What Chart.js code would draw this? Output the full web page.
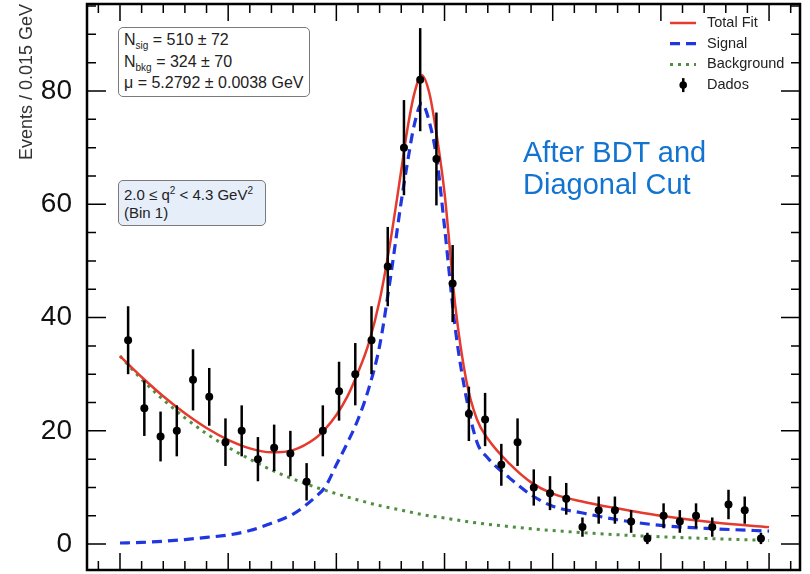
<!DOCTYPE html>
<html>
<head>
<meta charset="utf-8">
<script src="https://cdn.jsdelivr.net/npm/chart.js@4.4.1/dist/chart.umd.min.js"></script>
<style>
    body { margin: 0; background: #fff; }
    #wrap { position: relative; width: 810px; height: 574px; font-family: "Liberation Sans", Arial, sans-serif; }
    #chart { position: absolute; left: 0; top: 0; }
    .box { position: absolute; border: 1.5px solid #7a7a7a; border-radius: 5px; box-sizing: border-box; color: #222; white-space: nowrap; }
    .box sub, .box sup { font-size: 10px; line-height: 0; }
    #fitBox { left: 118px; top: 27px; width: 192px; height: 70px; background: #fff; font-size: 16px; line-height: 21.5px; padding: 1px 0 0 5px; }
    #binBox { left: 118px; top: 180px; width: 148px; height: 46px; background: #e6eefa; font-size: 15px; line-height: 18px; padding: 5px 0 0 5px; }
    #cutText { position: absolute; left: 523px; top: 136px; color: #1274d0; font-size: 29px; line-height: 32px; }
</style>
</head>
<body>
<div id="wrap">
    <canvas id="chart" width="810" height="574"></canvas>
    <div class="box" id="fitBox">
        N<sub>sig</sub> = 510 ± 72<br>
        N<sub>bkg</sub> = 324 ± 70<br>
        μ = 5.2792 ± 0.0038 GeV
    </div>
    <div class="box" id="binBox">
        2.0 ≤ q<sup>2</sup> &lt; 4.3 GeV<sup>2</sup><br>
        (Bin 1)
    </div>
    <div id="cutText">After BDT and<br>Diagonal Cut</div>
</div>
<script>
// Data (bin centres in GeV, 0.015 GeV bins)
const binX = [5.0075, 5.0225, 5.0375, 5.0525, 5.0675, 5.0825, 5.0975, 5.1125, 5.1275, 5.1425,
    5.1575, 5.1725, 5.1875, 5.2025, 5.2175, 5.2325, 5.2475, 5.2625, 5.2775, 5.2925,
    5.3075, 5.3225, 5.3375, 5.3525, 5.3675, 5.3825, 5.3975, 5.4125, 5.4275, 5.4425,
    5.4575, 5.4725, 5.4875, 5.5025, 5.5175, 5.5325, 5.5475, 5.5625, 5.5775, 5.5925];
const counts = [36, 24, 19, 20, 29, 26, 18, 20, 15, 17,
    16, 11, 20, 27, 30, 36, 49, 70, 82, 68,
    46, 23, 22, 14, 18, 10, 9, 8, 3, 6,
    6, 4, 1, 5, 4, 5, 3, 7, 6, 1];
const countErr = [6.0, 4.9, 4.4, 4.5, 5.4, 5.1, 4.2, 4.5, 3.9, 4.1,
    4.0, 3.3, 4.5, 5.2, 5.5, 6.0, 7.0, 8.4, 9.1, 8.2,
    6.8, 4.8, 4.7, 3.7, 4.2, 3.2, 3.0, 2.8, 1.7, 2.4,
    2.4, 2.0, 1.0, 2.2, 2.0, 2.2, 1.7, 2.6, 2.4, 1.0];

// Fit curves
const curveX = [5.00, 5.02, 5.04, 5.06, 5.08, 5.10, 5.12, 5.14, 5.16, 5.18, 5.19, 5.20,
    5.21, 5.22, 5.23, 5.24, 5.25, 5.26, 5.265, 5.272, 5.279, 5.286, 5.293, 5.30,
    5.31, 5.32, 5.33, 5.34, 5.36, 5.38, 5.40, 5.43, 5.46, 5.50, 5.55, 5.60];
const totalFit = [33.2, 29.5, 26.1, 23.1, 20.5, 18.4, 16.9, 16.2, 16.6, 18.6, 20.4, 22.8,
    26.0, 30.3, 35.5, 43.0, 53.5, 66.0, 72.5, 79.5, 82.8, 79.6, 71.9, 62.0,
    42.0, 29.0, 22.0, 18.6, 14.2, 10.9, 8.9, 7.4, 6.3, 5.0, 3.8, 3.0];
const signal = [0.2, 0.3, 0.5, 0.8, 1.2, 1.6, 2.4, 3.7, 5.3, 8.2, 10.2, 14.0,
    17.8, 22.0, 27.5, 35.0, 47.0, 60.5, 66.5, 74.0, 77.8, 74.5, 67.8, 56.0,
    38.0, 26.0, 18.0, 15.2, 11.7, 8.7, 6.7, 5.4, 4.3, 3.3, 2.7, 2.3];
const bkgX = [5.00, 5.02, 5.04, 5.06, 5.08, 5.10, 5.12, 5.14, 5.16, 5.18, 5.20, 5.22, 5.24,
    5.26, 5.28, 5.30, 5.32, 5.34, 5.36, 5.38, 5.40, 5.43, 5.46, 5.50, 5.55, 5.60];
const background = [33.2, 29.1, 25.5, 22.3, 19.5, 17.1, 15.0, 13.1, 11.5, 10.1, 8.9, 7.8, 6.8,
    6.0, 5.2, 4.6, 4.0, 3.5, 3.1, 2.7, 2.4, 2.0, 1.65, 1.3, 0.95, 0.65];

const yTickLabels = [0, 20, 40, 60, 80];
const legendLabels = ["Total Fit", "Signal", "Background", "Dados"];

const pts = (xs, ys) => xs.map((v, i) => ({ x: v, y: ys[i] }));

// error bars for the data points
const errorBars = {
    id: "errorBars",
    afterDatasetsDraw(chart) {
        const { ctx, scales: { x, y } } = chart;
        ctx.save();
        ctx.strokeStyle = "#000";
        ctx.lineWidth = 2.5;
        binX.forEach((bx, i) => {
            const px = x.getPixelForValue(bx);
            ctx.beginPath();
            ctx.moveTo(px, y.getPixelForValue(counts[i] + countErr[i]));
            ctx.lineTo(px, y.getPixelForValue(Math.max(counts[i] - countErr[i], 0)));
            ctx.stroke();
        });
        ctx.restore();
    },
};

// frame with inward ticks on all four sides
const frame = {
    id: "frame",
    afterDraw(chart) {
        const { ctx, chartArea: a, scales: { x, y } } = chart;
        ctx.save();
        ctx.strokeStyle = "#000";
        ctx.lineWidth = 1.5;
        ctx.beginPath();
        for (let k = 249; k <= 281; k++) {
            const px = x.getPixelForValue(k * 0.02);
            const len = k % 5 === 0 ? 17 : 9;
            ctx.moveTo(px, a.bottom);
            ctx.lineTo(px, a.bottom - len);
            ctx.moveTo(px, a.top);
            ctx.lineTo(px, a.top + len);
        }
        for (let k = 0; k <= 19; k++) {
            const py = y.getPixelForValue(k * 5);
            const len = k % 4 === 0 ? 19 : 9;
            ctx.moveTo(a.left, py);
            ctx.lineTo(a.left + len, py);
            ctx.moveTo(a.right, py);
            ctx.lineTo(a.right - len, py);
        }
        ctx.stroke();
        ctx.lineWidth = 2.5;
        ctx.strokeRect(a.left, a.top, a.right - a.left, a.bottom - a.top);
        ctx.restore();
    },
};

// legend in the top right corner of the plot
const legendBox = {
    id: "legendBox",
    afterDraw(chart) {
        const { ctx } = chart;
        const ds = chart.data.datasets;
        const order = [1, 2, 3, 0];
        ctx.save();
        ctx.font = "14.5px 'Liberation Sans', Arial, sans-serif";
        ctx.textBaseline = "middle";
        order.forEach((di, row) => {
            const cy = 23 + row * 20.7;
            const d = ds[di];
            if (di === 0) {
                ctx.fillStyle = "#000";
                ctx.fillRect(682, cy - 7, 2.5, 14);
                ctx.beginPath();
                ctx.arc(683.2, cy, 3.8, 0, Math.PI * 2);
                ctx.fill();
            } else {
                ctx.strokeStyle = d.borderColor;
                ctx.lineWidth = d.borderWidth;
                ctx.setLineDash(d.borderDash || []);
                ctx.beginPath();
                ctx.moveTo(670, cy);
                ctx.lineTo(696, cy);
                ctx.stroke();
                ctx.setLineDash([]);
            }
            ctx.fillStyle = "#222";
            ctx.fillText(legendLabels[row], 707, cy);
        });
        ctx.restore();
    },
};

const lineSet = (label, data, color, width, dash) => ({
    type: "line",
    label,
    data,
    borderColor: color,
    borderWidth: width,
    borderDash: dash,
    pointRadius: 0,
    fill: false,
    cubicInterpolationMode: "monotone",
});

new Chart(document.getElementById("chart"), {
    type: "scatter",
    data: {
        datasets: [
            {
                label: "Dados",
                data: pts(binX, counts),
                pointRadius: 4,
                pointBackgroundColor: "#000",
                pointBorderWidth: 0,
            },
            lineSet("Total Fit", pts(curveX, totalFit), "#e53a2e", 2.5, []),
            lineSet("Signal", pts(curveX, signal), "#1f36e0", 3.2, [10, 6]),
            lineSet("Background", pts(bkgX, background), "#4f8f3f", 3, [3, 5]),
        ],
    },
    options: {
        responsive: false,
        animation: false,
        devicePixelRatio: 1,
        layout: { padding: { top: 3, right: 10, bottom: 2, left: 0 } },
        plugins: { legend: { display: false }, tooltip: { enabled: false } },
        scales: {
            x: {
                type: "linear",
                display: false,
                min: 4.9695,
                max: 5.6286,
            },
            y: {
                type: "linear",
                min: -4.57,
                max: 95.36,
                grid: { display: false },
                border: { display: false },
                afterBuildTicks: (scale) => {
                    scale.ticks = yTickLabels.map((v) => ({ value: v }));
                },
                afterFit: (scale) => {
                    scale.width = 87;
                    scale.paddingTop = 0;
                    scale.paddingBottom = 0;
                },
                ticks: {
                    autoSkip: false,
                    padding: 7,
                    color: "#111",
                    font: { family: "'Liberation Sans', Arial, sans-serif", size: 28 },
                },
                title: {
                    display: true,
                    text: "Events / 0.015 GeV",
                    align: "end",
                    color: "#333",
                    padding: { top: 16, bottom: 0 },
                    font: { family: "'Liberation Sans', Arial, sans-serif", size: 18 },
                },
            },
        },
    },
    plugins: [errorBars, frame, legendBox],
});
</script>
</body>
</html>
